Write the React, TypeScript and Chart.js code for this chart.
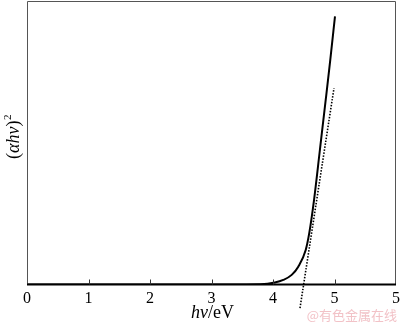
import React, { useEffect, useRef } from "react";
import { Chart, registerables } from "chart.js";

Chart.register(...registerables);

const tickLabels = ["0", "1", "2", "3", "4", "5", "5"];
const curveX = [0, 1, 2, 3, 3.8, 4.03, 4.167, 4.304, 4.411, 4.532, 4.59, 4.667, 4.76, 4.857, 4.93, 5.008];
const curveY = [0, 0, 0, 0, 0.1, 0.7, 1.6, 3.4, 6.3, 12.2, 18.2, 29.8, 47, 65.1, 79, 94.6];
const fitX = [4.439, 4.992];
const fitY = [-8.3, 69.3];

const framePlugin = {
  id: "frame",
  afterDatasetsDraw(chart: any) {
    const { ctx, chartArea: a, scales } = chart;
    ctx.save();
    ctx.strokeStyle = "#555";
    ctx.lineWidth = 1;
    ctx.beginPath();
    ctx.moveTo(a.left + 0.5, a.bottom);
    ctx.lineTo(a.left + 0.5, a.top + 0.5);
    ctx.lineTo(a.right - 0.5, a.top + 0.5);
    ctx.lineTo(a.right - 0.5, a.bottom);
    ctx.stroke();
    ctx.strokeStyle = "#000";
    ctx.lineWidth = 2;
    ctx.beginPath();
    ctx.moveTo(a.left, a.bottom);
    ctx.lineTo(a.right, a.bottom);
    ctx.stroke();
    ctx.lineWidth = 1;
    ctx.strokeStyle = "#333";
    const xs = scales.x;
    for (let v = 1; v <= 5; v++) {
      const px = Math.round(xs.getPixelForValue(v)) + 0.5;
      ctx.beginPath();
      ctx.moveTo(px, a.bottom);
      ctx.lineTo(px, a.bottom - 5);
      ctx.stroke();
    }
    ctx.restore();
  },
  afterDraw(chart: any) {
    const { ctx, chartArea: a } = chart;
    ctx.save();
    ctx.fillStyle = "#000";
    ctx.textBaseline = "alphabetic";
    const it = "italic 18px 'Liberation Serif'";
    const rg = "18px 'Liberation Serif'";
    ctx.font = it;
    const w1 = ctx.measureText("hν").width;
    ctx.font = rg;
    const w2 = ctx.measureText("/eV").width;
    const cx = (a.left + a.right) / 2 + 1;
    const x0 = cx - (w1 + w2) / 2;
    ctx.font = it;
    ctx.fillText("hν", x0, 318);
    ctx.font = rg;
    ctx.fillText("/eV", x0 + w1, 318);
    ctx.translate(19, 137);
    ctx.rotate(-Math.PI / 2);
    ctx.font = rg;
    const p1 = ctx.measureText("(").width;
    ctx.font = it;
    const p2 = ctx.measureText("αhν").width;
    ctx.font = rg;
    const p3 = ctx.measureText(")").width;
    ctx.font = "11px 'Liberation Serif'";
    const p4 = ctx.measureText("2").width;
    const y0 = -(p1 + p2 + p3 + p4) / 2;
    ctx.font = rg;
    ctx.fillText("(", y0, 0);
    ctx.font = it;
    ctx.fillText("αhν", y0 + p1, 0);
    ctx.font = rg;
    ctx.fillText(")", y0 + p1 + p2, 0);
    ctx.font = "11px 'Liberation Serif'";
    ctx.fillText("2", y0 + p1 + p2 + p3 + 0.5, -8);
    ctx.setTransform(1, 0, 0, 1, 0, 0);
    ctx.fillStyle = "#f2c2c7";
    ctx.font = "13px 'Noto Sans CJK SC'";
    ctx.textAlign = "right";
    ctx.fillText("@有色金属在线", 397, 320);
    ctx.restore();
  },
};

export default function App() {
  const ref = useRef<HTMLCanvasElement>(null);
  useEffect(() => {
    document.body.style.margin = "0";
    const chart = new Chart(ref.current!, {
      type: "line",
      data: {
        datasets: [
          {
            data: curveX.map((x, i) => ({ x, y: curveY[i] })),
            borderColor: "#000",
            borderWidth: 2,
            pointRadius: 0,
            cubicInterpolationMode: "monotone",
          },
          {
            data: fitX.map((x, i) => ({ x, y: fitY[i] })),
            borderColor: "#000",
            borderWidth: 1.6,
            borderDash: [1.5, 1.5],
            pointRadius: 0,
            clip: false,
          },
        ],
      },
      options: {
        animation: false,
        responsive: false,
        layout: { padding: { top: 1, right: 4, left: 0, bottom: 0 } },
        plugins: { legend: { display: false }, tooltip: { enabled: false } },
        scales: {
          x: {
            type: "linear",
            min: 0,
            max: 6,
            afterFit: (s: any) => {
              s.height = 38.5;
              s.paddingLeft = 0;
              s.paddingRight = 0;
            },
            grid: { display: false, drawTicks: false },
            border: { display: false },
            ticks: {
              stepSize: 1,
              padding: 5,
              color: "#000",
              font: { family: "'Liberation Serif'", size: 16 },
              callback: (v: any) => tickLabels[Math.round(Number(v))] ?? "",
            },
          },
          y: {
            type: "linear",
            min: 0,
            max: 100,
            afterFit: (s: any) => {
              s.width = 27;
              s.paddingTop = 0;
              s.paddingBottom = 0;
            },
            grid: { display: false, drawTicks: false },
            border: { display: false },
            ticks: { display: false },
          },
        },
      },
      plugins: [framePlugin],
    } as any);
    return () => chart.destroy();
  }, []);
  return <canvas ref={ref} width={400} height={323} style={{ display: "block" }} />;
}
